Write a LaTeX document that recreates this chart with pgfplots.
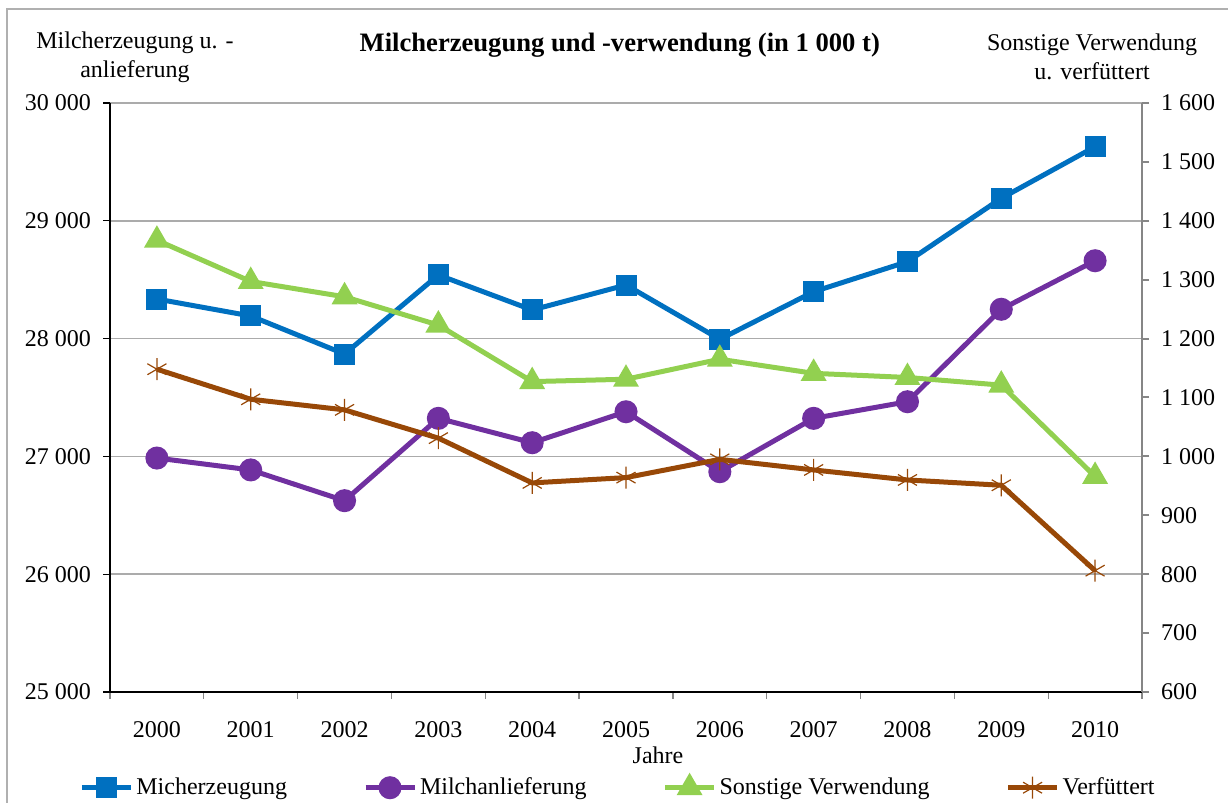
\documentclass[border=0pt]{standalone}
\usepackage{pgfplots}
\pgfplotsset{compat=1.18}
\usepackage{fontspec}
\setmainfont{Liberation Serif}
\definecolor{cblue}{HTML}{0070C0}
\definecolor{cpurple}{HTML}{7030A0}
\definecolor{cgreen}{HTML}{92D050}
\definecolor{cbrown}{HTML}{984807}
\definecolor{gridgray}{HTML}{ABABAB}
\definecolor{axgray}{HTML}{868686}
\definecolor{framegray}{HTML}{B0B0B0}

\pgfplotstableread{
x  erz    anl    sonst  futter
0  28336  26986  1367   1148
1  28192  26885  1297   1097
2  27869  26624  1271   1079
3  28540  27323  1223   1031
4  28243  27116  1127   955
5  28455  27379  1131   964
6  27994  26870  1165   995
7  28398  27323  1141   977
8  28653  27464  1134   960
9  29191  28249  1121   951
10 29629  28661  966    806
}\milch

\pgfplotsset{
  common/.style={
    at={(55pt,55.5pt)}, anchor=south west,
    scale only axis, width=516pt, height=294.5pt,
    xmin=-0.5, xmax=10.5,
    font=\fontsize{12}{14.5}\selectfont,
    tick align=outside,
    major tick length=3.5pt,
    scaled ticks=false,
    clip=false,
  },
  ser/.style={line width=2.5pt, mark options={solid}},
  legend image code/.code={\draw[mark repeat=2,mark phase=2,#1] plot coordinates {(0pt,0pt)(12.25pt,0pt)(24.5pt,0pt)};},
}

\begin{document}
\begin{tikzpicture}
\useasboundingbox (0,0) rectangle (614pt,401.5pt);
\draw[framegray, line width=0.8pt] (3.6pt,-1pt) -- (3.6pt,397pt) -- (615pt,397pt);

\begin{axis}[common,
  ymin=25000, ymax=30000,
  axis x line*=bottom, axis y line*=left,
  axis line style={black, line width=0.6pt},
  ytick={25000,26000,27000,28000,29000,30000},
  yticklabels={25 000,26 000,27 000,28 000,29 000,30 000},
  ymajorgrids, grid style={gridgray, line width=0.7pt},
  xtick={-0.5,0.5,...,10.5}, xticklabels={},
  extra x ticks={0,1,2,3,4,5,6,7,8,9,10},
  extra x tick labels={2000,2001,2002,2003,2004,2005,2006,2007,2008,2009,2010},
  extra x tick style={major tick length=0pt, grid=none},
  xtick style={axgray, line width=0.6pt},
  ytick style={black, line width=0.6pt},
  yticklabel style={xshift=-2.5pt},
  xticklabel style={yshift=-11pt},
  title={\textbf{Milcherzeugung und -verwendung (in 1~000 t)}},
  every axis title/.style={at={(axis description cs:0.494,1.0985)}, anchor=center, font=\fontsize{13.3}{16}\selectfont},
  ylabel={Milcherzeugung u. -\\anlieferung},
  every axis y label/.style={at={(axis description cs:0.0242,1.0772)}, anchor=center, align=center},
  xlabel={Jahre},
  every axis x label/.style={at={(axis description cs:0.531,-0.107)}, anchor=center},
]
\addplot[ser, cblue, mark=square*, mark size=4pt] table[x=x, y=erz] {\milch};
\addplot[ser, cpurple, mark=*, mark size=4.5pt] table[x=x, y=anl] {\milch};
\end{axis}

\begin{axis}[common,
  ymin=600, ymax=1600,
  axis x line=none, axis y line*=right,
  axis line style={axgray, line width=1.2pt},
  ytick={600,700,...,1600},
  yticklabels={600,700,800,900,1 000,1 100,1 200,1 300,1 400,1 500,1 600},
  ytick style={axgray, line width=1pt},
  yticklabel style={xshift=2.5pt, anchor=west},
  ylabel={Sonstige Verwendung\\u. verfüttert},
  every axis y label/.style={at={(axis description cs:0.9516,1.0781)}, anchor=center, align=center},
  legend columns=4,
  legend style={at={(axis description cs:0.4927,-0.1625)}, anchor=center, draw=none, fill=none,
    font=\fontsize{12}{14.5}\selectfont,
    /tikz/every even column/.append style={column sep=36.5pt},
    nodes={inner xsep=1.5pt}},
]
\addlegendimage{ser, cblue, mark=square*, mark size=4pt}
\addlegendentry{Micherzeugung}
\addlegendimage{ser, cpurple, mark=*, mark size=4.5pt}
\addlegendentry{Milchanlieferung}
\addplot[ser, cgreen, mark=triangle*, mark size=5pt] table[x=x, y=sonst] {\milch};
\addlegendentry{Sonstige Verwendung}
\addplot[ser, cbrown, mark=asterisk, mark size=5.5pt, mark options={line width=0.6pt}] table[x=x, y=futter] {\milch};
\addlegendentry{Verfüttert}
\end{axis}
\end{tikzpicture}
\end{document}
